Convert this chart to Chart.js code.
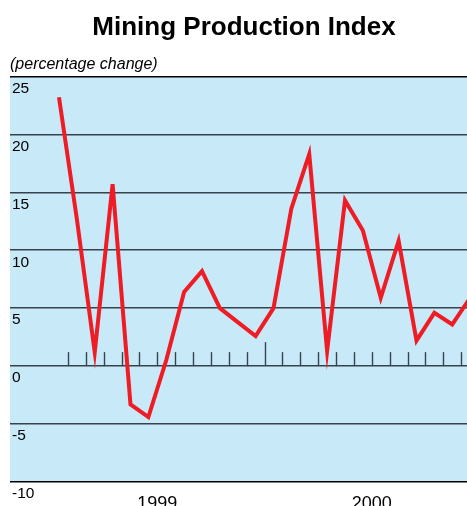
<!DOCTYPE html>
<html>
<head>
<meta charset="utf-8">
<script src="https://cdn.jsdelivr.net/npm/chart.js@4"></script>
<style>
  html, body { margin: 0; padding: 0; background: #fff; overflow: hidden; }
  canvas { display: block; }
</style>
</head>
<body>
<canvas id="chart" width="478" height="506"></canvas>
<script>
const YEARS = ['1999', '2000'];
// monthly % change, Jan 1999 .. Dec 2000
const VALUES = [
  23.2, 12.7, 1.2, 15.7, -3.3, -4.4, 0.5, 6.4, 8.2, 5.0, 3.8, 2.6,
  5.0, 13.6, 18.3, 1.3, 14.3, 11.7, 5.9, 10.8, 2.2, 4.6, 3.6, 5.9,
];
const Y_TICKS = [-10, -5, 0, 5, 10, 15, 20, 25];

const BG_BLUE = '#c8e9f8';
const LINE_RED = '#ee1c25';
const GRID_GREY = '#36424c';

Chart.defaults.font.family = '"Liberation Sans", Arial, sans-serif';
Chart.defaults.color = '#000';

const points = VALUES.map((v, i) => ({ x: i + 0.5, y: v }));

const plotBackground = {
  id: 'plotBackground',
  beforeDraw(chart) {
    const { ctx, chartArea } = chart;
    ctx.save();
    ctx.fillStyle = BG_BLUE;
    ctx.fillRect(chartArea.left, chartArea.top, chartArea.width, chartArea.height);
    ctx.restore();
  },
};

// month tick marks sitting on the zero line, long one at the year break
const monthTicks = {
  id: 'monthTicks',
  beforeDatasetsDraw(chart) {
    const { ctx, scales } = chart;
    const y0 = scales.y.getPixelForValue(0);
    ctx.save();
    ctx.strokeStyle = GRID_GREY;
    ctx.lineWidth = 1.4;
    for (let m = 1; m < YEARS.length * 12; m++) {
      const x = Math.round(scales.x.getPixelForValue(m)) + 0.5;
      const len = m % 12 === 0 ? 24 : 14;
      ctx.beginPath();
      ctx.moveTo(x, y0);
      ctx.lineTo(x, y0 - len);
      ctx.stroke();
    }
    ctx.restore();
  },
};

new Chart(document.getElementById('chart'), {
  type: 'line',
  data: {
    datasets: [{
      data: points,
      borderColor: LINE_RED,
      borderWidth: 4,
      pointRadius: 0,
      tension: 0,
      borderJoinStyle: 'miter',
    }],
  },
  options: {
    responsive: false,
    animation: false,
    layout: { padding: { left: 10, right: 0, top: 0, bottom: 0 } },
    plugins: {
      legend: { display: false },
      tooltip: { enabled: false },
      title: {
        display: true,
        text: 'Mining Production Index',
        font: { size: 26, weight: 'bold' },
        padding: { top: 12, bottom: 12 },
      },
      subtitle: {
        display: true,
        text: '(percentage change)',
        align: 'start',
        font: { size: 16, style: 'italic' },
        padding: { top: 0, bottom: 2 },
      },
    },
    scales: {
      x: {
        type: 'linear',
        min: -2.24,
        max: 23.94,
        grid: { display: false },
        border: { display: false },
        afterBuildTicks: (scale) => {
          scale.ticks = YEARS.map((y, i) => ({ value: i * 12 + 6 }));
        },
        ticks: {
          callback: (v, i) => YEARS[i],
          font: { size: 18 },
          padding: 3,
          maxRotation: 0,
          autoSkip: false,
        },
        afterFit: (scale) => { scale.height = 24; },
      },
      y: {
        min: -10,
        max: 25,
        afterBuildTicks: (scale) => {
          scale.ticks = Y_TICKS.map((v) => ({ value: v }));
        },
        grid: {
          drawTicks: false,
          lineWidth: 1.5,
          color: (c) => (c.tick && (c.tick.value === 25 || c.tick.value === -10) ? '#000' : GRID_GREY),
        },
        border: { display: false },
        ticks: {
          mirror: true,
          padding: 2,
          labelOffset: 12,
          font: { size: 15.5 },
        },
        afterFit: (scale) => { scale.width = 0; },
      },
    },
  },
  plugins: [plotBackground, monthTicks],
});
</script>
</body>
</html>
